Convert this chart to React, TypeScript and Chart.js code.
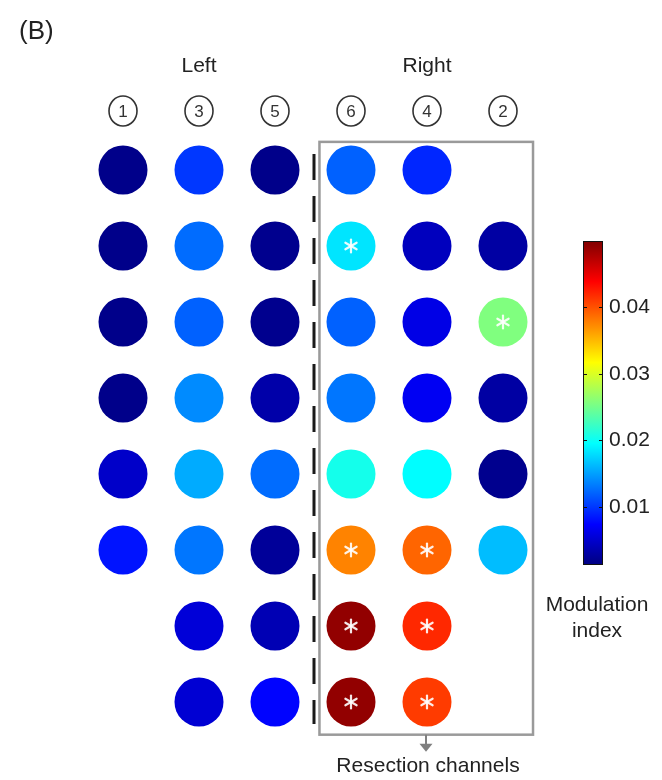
import React, { useEffect, useRef } from "react";
import { Chart, registerables } from "chart.js";

Chart.register(...registerables);

// ---- data ----
const channelLabels = ["1", "3", "5", "6", "4", "2"];
const rowLabels = [1, 2, 3, 4, 5, 6, 7, 8];
const modCh1 = [0.0018, 0.0018, 0.0018, 0.0018, 0.0048, 0.0083, null, null];
const modCh3 = [0.0100, 0.0125, 0.0120, 0.0140, 0.0155, 0.0130, 0.0055, 0.0053];
const modCh5 = [0.0018, 0.0020, 0.0020, 0.0033, 0.0125, 0.0025, 0.0038, 0.0075];
const modCh6 = [0.0120, 0.0183, 0.0120, 0.0130, 0.0205, 0.0376, 0.0490, 0.0490];
const modCh4 = [0.0092, 0.0043, 0.0062, 0.0068, 0.0195, 0.0390, 0.0419, 0.0410];
const modCh2 = [null, 0.0030, 0.0256, 0.0030, 0.0020, 0.0164, null, null];
const significant: [string, number][] = [
  ["6", 2], ["2", 3], ["6", 6], ["4", 6], ["6", 7], ["4", 7], ["6", 8], ["4", 8],
];
const colorbarTicks = [0.01, 0.02, 0.03, 0.04];
const cbMin = 0.0013;
const cbMax = 0.0499;
const sideLabels = ["Left", "Right"];
const panelLabel = "(B)";
const resectionLabel = "Resection channels";
const colorbarTitle = ["Modulation", "index"];

const columns = [modCh1, modCh3, modCh5, modCh6, modCh4, modCh2];

const FONT = "'Liberation Sans', Arial, sans-serif";

function clamp(v: number) {
  return Math.max(0, Math.min(1, v));
}
function jet(t: number) {
  const r = clamp(1.5 - Math.abs(4 * t - 3));
  const g = clamp(1.5 - Math.abs(4 * t - 2));
  const b = clamp(1.5 - Math.abs(4 * t - 1));
  return `rgb(${Math.round(r * 255)},${Math.round(g * 255)},${Math.round(b * 255)})`;
}
function valueColor(v: number) {
  return jet(clamp((v - cbMin) / (cbMax - cbMin)));
}

export default function App() {
  const ref = useRef<HTMLCanvasElement | null>(null);

  useEffect(() => {
    const canvas = ref.current;
    if (!canvas) return;

    const points: any[] = [];
    const colors: string[] = [];
    columns.forEach((col, i) => {
      col.forEach((v, r) => {
        if (v === null) return;
        points.push({ x: i + 1, y: rowLabels[r], v, ch: channelLabels[i] });
        colors.push(valueColor(v as number));
      });
    });

    const overlay = {
      id: "overlay",
      beforeDraw(chart: any) {
        const c = chart.ctx;
        c.save();
        c.fillStyle = "#ffffff";
        c.fillRect(0, 0, chart.width, chart.height);
        c.restore();
      },
      afterDatasetsDraw(chart: any) {
        const c = chart.ctx as CanvasRenderingContext2D;
        const xs = chart.scales.x;
        const ys = chart.scales.y;
        const meta = chart.getDatasetMeta(0);
        c.save();

        // asterisks
        c.strokeStyle = "rgba(255,255,255,0.9)";
        c.lineWidth = 2.2;
        c.lineCap = "round";
        meta.data.forEach((el: any, idx: number) => {
          const p = points[idx];
          const sig = significant.some(([ch, row]) => ch === p.ch && row === p.y);
          if (!sig) return;
          const L = 6.5;
          for (const a of [90, 30, 150]) {
            const rad = (a * Math.PI) / 180;
            c.beginPath();
            c.moveTo(el.x - L * Math.cos(rad), el.y - L * Math.sin(rad));
            c.lineTo(el.x + L * Math.cos(rad), el.y + L * Math.sin(rad));
            c.stroke();
          }
        });

        // dashed separator
        const sepX = xs.getPixelForValue(3.5) + 1;
        c.strokeStyle = "#1a1a1a";
        c.lineWidth = 3;
        c.lineCap = "butt";
        c.setLineDash([26, 16]);
        c.beginPath();
        c.moveTo(sepX, ys.getPixelForValue(0.79));
        c.lineTo(sepX, ys.getPixelForValue(8.29));
        c.stroke();
        c.setLineDash([]);

        // resection box
        const bx0 = xs.getPixelForValue(3.585);
        const bx1 = xs.getPixelForValue(6.395);
        const by0 = ys.getPixelForValue(0.63);
        const by1 = ys.getPixelForValue(8.43);
        c.strokeStyle = "#9a9a9a";
        c.lineWidth = 2.5;
        c.strokeRect(bx0, by0, bx1 - bx0, by1 - by0);

        // arrow
        const ax = xs.getPixelForValue(5) - 1;
        c.strokeStyle = "#808080";
        c.fillStyle = "#808080";
        c.lineWidth = 2;
        c.beginPath();
        c.moveTo(ax, by1);
        c.lineTo(ax, by1 + 10);
        c.stroke();
        c.beginPath();
        c.moveTo(ax - 6.5, by1 + 9);
        c.lineTo(ax + 6.5, by1 + 9);
        c.lineTo(ax, by1 + 17);
        c.closePath();
        c.fill();

        // texts
        c.fillStyle = "#222";
        c.textAlign = "center";
        c.textBaseline = "middle";
        c.font = `21px ${FONT}`;
        c.fillText(resectionLabel, ax + 2, by1 + 32);
        c.fillText(sideLabels[0], xs.getPixelForValue(2), 66);
        c.fillText(sideLabels[1], xs.getPixelForValue(5), 66);

        c.font = `26px ${FONT}`;
        c.textAlign = "left";
        c.fillText(panelLabel, 19, 32);

        // circled channel numbers
        c.textAlign = "center";
        channelLabels.forEach((lab, i) => {
          const cx = xs.getPixelForValue(i + 1);
          const cy = 111;
          c.beginPath();
          c.ellipse(cx, cy, 14, 15, 0, 0, Math.PI * 2);
          c.strokeStyle = "#333";
          c.lineWidth = 1.6;
          c.stroke();
          c.fillStyle = "#333";
          c.font = `17px ${FONT}`;
          c.fillText(lab, cx, cy + 1);
        });

        // colorbar
        const cbL = 583;
        const cbR = 603;
        const cbT = 241;
        const cbB = 565;
        const yOf = (v: number) => cbB - ((v - cbMin) / (cbMax - cbMin)) * (cbB - cbT);
        const grad = c.createLinearGradient(0, cbB, 0, cbT);
        for (let k = 0; k <= 64; k++) {
          grad.addColorStop(k / 64, jet(k / 64));
        }
        c.fillStyle = grad;
        c.fillRect(cbL, cbT, cbR - cbL, cbB - cbT);
        c.strokeStyle = "#111";
        c.lineWidth = 1;
        c.strokeRect(cbL + 0.5, cbT + 0.5, cbR - cbL - 1, cbB - cbT - 1);
        c.fillStyle = "#222";
        c.textAlign = "left";
        c.font = `21px ${FONT}`;
        colorbarTicks.forEach((t) => {
          const ty = Math.round(yOf(t)) + 0.5;
          c.beginPath();
          c.moveTo(cbR - 4, ty);
          c.lineTo(cbR, ty);
          c.moveTo(cbL, ty);
          c.lineTo(cbL + 4, ty);
          c.strokeStyle = "#111";
          c.stroke();
          c.fillText(t.toFixed(2), 609, ty);
        });
        c.textAlign = "center";
        c.fillText(colorbarTitle[0], 597, 605);
        c.fillText(colorbarTitle[1], 597, 631);

        c.restore();
      },
    };

    const chart = new Chart(canvas, {
      type: "scatter",
      data: {
        datasets: [
          {
            data: points,
            backgroundColor: colors,
            borderColor: colors,
            borderWidth: 0,
            pointRadius: 24.5,
            pointHoverRadius: 24.5,
            clip: false,
          } as any,
        ],
      },
      options: {
        animation: false,
        responsive: false,
        devicePixelRatio: 1,
        layout: { padding: { left: 85, right: 121, top: 132, bottom: 40 } },
        plugins: { legend: { display: false }, tooltip: { enabled: false } },
        events: [],
        scales: {
          x: { type: "linear", min: 0.5, max: 6.5, display: false },
          y: { type: "linear", min: 0.5, max: 8.5, reverse: true, display: false },
        },
      },
      plugins: [overlay],
    });

    return () => chart.destroy();
  }, []);

  return (
    <div style={{ position: "absolute", left: 0, top: 0, width: 662, height: 780 }}>
      <canvas ref={ref} width={662} height={780} style={{ display: "block" }} />
    </div>
  );
}
